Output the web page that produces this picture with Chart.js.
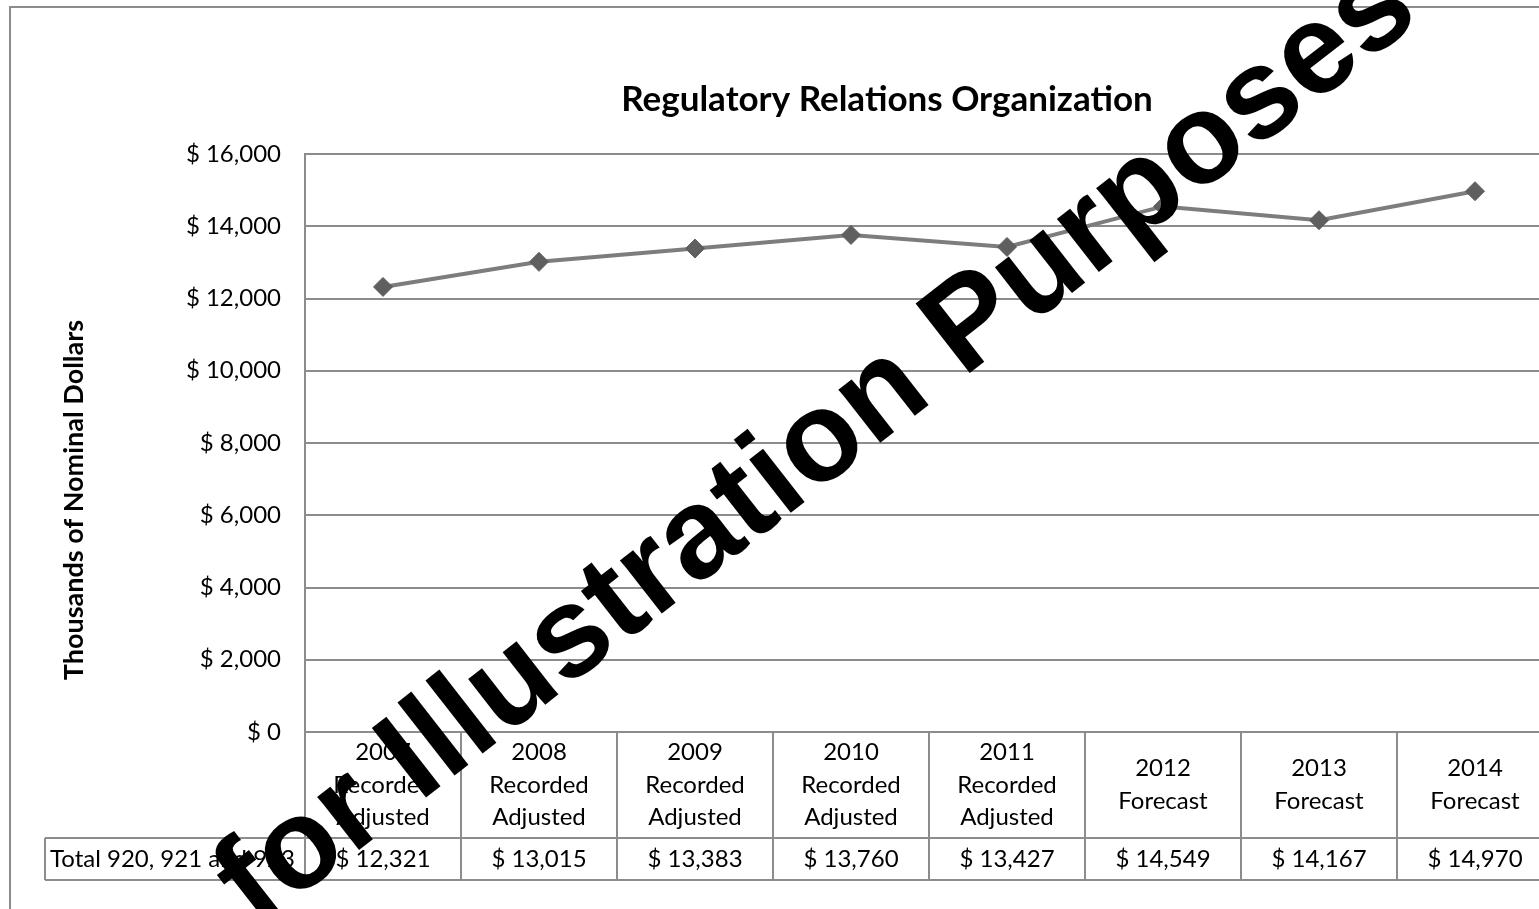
<!DOCTYPE html>
<html lang="en">
<head>
<meta charset="utf-8">
<title>Regulatory Relations Organization</title>
<script src="https://cdn.jsdelivr.net/npm/chart.js@4.4.1/dist/chart.umd.min.js"></script>
<style>
   html, body { margin: 0; padding: 0; background: #fff; overflow: hidden; }
   .chart-frame { position: relative; width: 1539px; height: 909px; overflow: hidden; }
   .chart-frame canvas { position: absolute; left: 0; top: 0; }
</style>
</head>
<body>
<div class="chart-frame">
   <canvas id="regulatoryChart" width="1800" height="909"></canvas>
</div>
<script>
const chartTitle = "Regulatory Relations Organization";
const yAxisTitle = "Thousands of Nominal Dollars";
const tableRowLabel = "Total 920, 921 and 923";
const watermarkText = "for Illustration Purposes";

const years = ["2007", "2008", "2009", "2010", "2011", "2012", "2013", "2014"];
const periodLabels = [
   ["Recorded", "Adjusted"],
   ["Recorded", "Adjusted"],
   ["Recorded", "Adjusted"],
   ["Recorded", "Adjusted"],
   ["Recorded", "Adjusted"],
   ["Forecast"],
   ["Forecast"],
   ["Forecast"]
];
const totals = [12321, 13015, 13383, 13760, 13427, 14549, 14167, 14970];
const yTicks = [0, 2000, 4000, 6000, 8000, 10000, 12000, 14000, 16000];

const GRID_COLOR = "#8c8c8c";
const TEXT_FONT = "Lato";

document.addEventListener("DOMContentLoaded", initChart);

function initChart() {
   const canvas = document.getElementById("regulatoryChart");
   if (!canvas || typeof Chart === "undefined") return;

   Chart.defaults.font.family = TEXT_FONT;
   Chart.defaults.color = "#000";

   new Chart(canvas, {
      type: "line",
      data: {
         labels: years,
         datasets: [
            {
               label: tableRowLabel,
               data: totals,
               borderColor: "#7d7d7d",
               borderWidth: 4,
               pointStyle: "rectRot",
               pointRadius: 9.5,
               pointBackgroundColor: "#5f5f5f",
               pointBorderColor: "#5f5f5f",
               pointBorderWidth: 1,
               tension: 0
            }
         ]
      },
      options: {
         responsive: false,
         animation: false,
         events: [],
         layout: {
            padding: { left: 10, right: 1800 - 1553, top: 154, bottom: 177 }
         },
         plugins: {
            legend: { display: false },
            tooltip: { enabled: false },
            title: { display: false }
         },
         scales: {
            x: {
               display: false,
               offset: true
            },
            y: {
               min: yTicks[0],
               max: yTicks[yTicks.length - 1],
               afterBuildTicks(scale) {
                  scale.ticks = yTicks.map((value) => ({ value }));
               },
               afterFit(scale) {
                  scale.width = 295;
               },
               ticks: {
                  padding: 24,
                  font: { size: 24 },
                  color: "#000",
                  callback(value) {
                     return formatCurrency(value);
                  }
               },
               grid: {
                  color: GRID_COLOR,
                  lineWidth: 2,
                  drawTicks: false
               },
               border: {
                  display: true,
                  color: GRID_COLOR,
                  width: 2
               }
            }
         }
      },
      plugins: [decorationsPlugin]
   });
}

const decorationsPlugin = {
   id: "decorations",
   afterDraw(chart) {
      const { ctx } = chart;
      drawFrame(ctx);
      drawTitle(ctx);
      drawYAxisTitle(ctx);
      drawDataTable(chart);
      drawWatermark(ctx);
   }
};

function drawFrame(ctx) {
   ctx.save();
   ctx.strokeStyle = GRID_COLOR;
   ctx.lineWidth = 2;
   ctx.strokeRect(10, 7, 1780, 940);
   ctx.restore();
}

function drawTitle(ctx) {
   ctx.save();
   ctx.font = `bold 35px ${TEXT_FONT}`;
   ctx.fillStyle = "#000";
   ctx.textAlign = "center";
   ctx.textBaseline = "middle";
   ctx.fillText(chartTitle, 887, 100);
   ctx.restore();
}

function drawYAxisTitle(ctx) {
   ctx.save();
   ctx.translate(74, 500);
   ctx.rotate(-Math.PI / 2);
   ctx.font = `bold 27px ${TEXT_FONT}`;
   ctx.fillStyle = "#000";
   ctx.textAlign = "center";
   ctx.textBaseline = "middle";
   ctx.fillText(yAxisTitle, 0, 0);
   ctx.restore();
}

function drawDataTable(chart) {
   const { ctx, chartArea, scales } = chart;
   const xScale = scales.x;
   const columnWidth = (chartArea.right - chartArea.left) / years.length;
   const headerTop = chartArea.bottom;
   const headerBottom = headerTop + 106;
   const rowBottom = headerBottom + 42;
   const labelLeft = 45;
   const lineHeight = 32.5;

   ctx.save();
   ctx.strokeStyle = GRID_COLOR;
   ctx.lineWidth = 2;
   ctx.beginPath();
   ctx.moveTo(labelLeft, headerBottom);
   ctx.lineTo(chartArea.right, headerBottom);
   ctx.moveTo(labelLeft, rowBottom);
   ctx.lineTo(chartArea.right, rowBottom);
   ctx.moveTo(labelLeft, headerBottom);
   ctx.lineTo(labelLeft, rowBottom);
   for (let i = 0; i <= years.length; i++) {
      const x = chartArea.left + i * columnWidth;
      ctx.moveTo(x, headerTop);
      ctx.lineTo(x, rowBottom);
   }
   ctx.stroke();

   ctx.fillStyle = "#000";
   ctx.font = `24px ${TEXT_FONT}`;
   ctx.textAlign = "center";
   ctx.textBaseline = "middle";

   years.forEach((year, i) => {
      const centerX = xScale.getPixelForValue(i);
      const lines = [year, ...periodLabels[i]];
      const firstY = (headerTop + headerBottom) / 2 - ((lines.length - 1) * lineHeight) / 2;
      lines.forEach((line, j) => {
         ctx.fillText(line, centerX, firstY + j * lineHeight);
      });
      ctx.fillText(formatCurrency(totals[i]), centerX, (headerBottom + rowBottom) / 2);
   });

   ctx.textAlign = "left";
   ctx.fillText(tableRowLabel, labelLeft + 5, (headerBottom + rowBottom) / 2);
   ctx.restore();
}

function drawWatermark(ctx) {
   const fontSize = 128;
   ctx.save();
   ctx.font = `bold ${fontSize}px 'Liberation Sans', Arial, sans-serif`;
   const anchorOffset = ctx.measureText("for Illustrati").width + ctx.measureText("o").width / 2;
   ctx.translate(822, 446);
   ctx.rotate((-38 * Math.PI) / 180);
   ctx.fillStyle = "#000";
   ctx.textAlign = "left";
   ctx.textBaseline = "alphabetic";
   ctx.fillText(watermarkText, -anchorOffset, fontSize * 0.26);
   ctx.restore();
}

function formatCurrency(value) {
   return "$ " + new Intl.NumberFormat("en-US", {
      maximumFractionDigits: 0
   }).format(Number(value) || 0);
}
</script>
</body>
</html>
